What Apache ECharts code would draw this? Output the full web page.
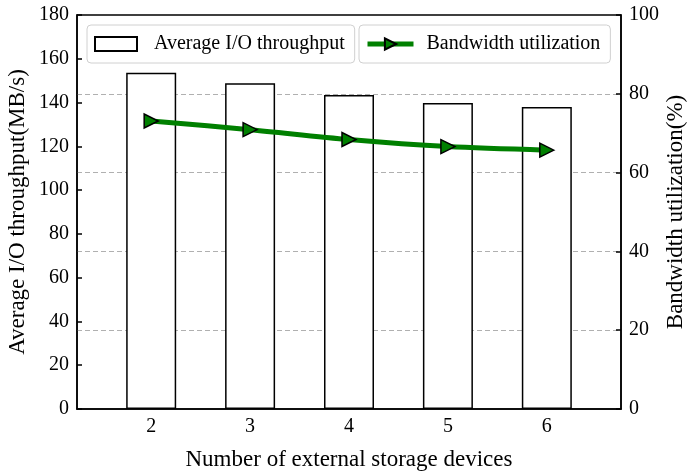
<!DOCTYPE html>
<html>
<head>
<meta charset="utf-8">
<script src="https://cdn.jsdelivr.net/npm/echarts@6/dist/echarts.min.js"></script>
<style>
  html, body { margin: 0; padding: 0; background: #fff; }
  #chart { width: 687px; height: 472px; }
</style>
</head>
<body>
<div id="chart"></div>
<script>
// Number of external storage devices
const devices = [2, 3, 4, 5, 6];
// Average I/O throughput (MB/s)
const throughput = [153.6, 148.8, 143.5, 139.8, 138.0];
// Bandwidth utilization (%)
const utilization = [73.1, 70.9, 68.4, 66.6, 65.7];

const FONT = 'Liberation Serif';
const chart = echarts.init(document.getElementById('chart'));

chart.setOption({
  animation: false,
  backgroundColor: '#fff',
  textStyle: { fontFamily: FONT, color: '#000' },
  grid: {
    left: 77, right: 66, top: 15, bottom: 63,
    show: true, borderColor: '#000', borderWidth: 1.5,
    containLabel: false,
    outerBoundsMode: 'none'
  },
  legend: [
    {
      data: [{ name: 'Average I/O throughput', icon: 'rect' }],
      left: 87, top: 25, width: 270, height: 35,
      padding: [9, 10, 9, 7],
      itemWidth: 42, itemHeight: 14,
      backgroundColor: '#fff',
      borderColor: '#d0d0d0', borderWidth: 1, borderRadius: 4,
      textStyle: { fontFamily: FONT, fontSize: 20, color: '#000', padding: [0, 0, 0, 12] }
    },
    {
      data: ['Bandwidth utilization'],
      left: 359, top: 25, height: 35,
      padding: [9, 10, 9, 6],
      itemWidth: 46, itemHeight: 14,
      lineStyle: { width: 5 },
      backgroundColor: '#fff',
      borderColor: '#d0d0d0', borderWidth: 1, borderRadius: 4,
      textStyle: { fontFamily: FONT, fontSize: 20, color: '#000', padding: [0, 0, 0, 8] }
    }
  ],
  xAxis: {
    type: 'value',
    min: 1.25, max: 6.75,
    name: 'Number of external storage devices',
    nameLocation: 'middle', nameGap: 39, nameMoveOverlap: false,
    nameTextStyle: { fontFamily: FONT, fontSize: 23, color: '#000', verticalAlign: 'top' },
    axisLine: { show: true, lineStyle: { color: '#000', width: 1.5 } },
    axisTick: { show: true, inside: true, length: 5, customValues: devices, lineStyle: { color: '#000', width: 1.5 } },
    axisLabel: { customValues: devices, fontFamily: FONT, fontSize: 20, color: '#000', margin: 8 },
    splitLine: { show: false }
  },
  yAxis: [
    {
      type: 'value', min: 0, max: 180, interval: 20,
      name: 'Average I/O throughput(MB/s)',
      nameLocation: 'middle', nameGap: 59, nameRotate: 90, nameMoveOverlap: false,
      nameTextStyle: { fontFamily: FONT, fontSize: 23, color: '#000', verticalAlign: 'middle' },
      axisLine: { show: true, lineStyle: { color: '#000', width: 1.5 } },
      axisTick: { show: true, inside: true, length: 5, lineStyle: { color: '#000', width: 1.5 } },
      axisLabel: { fontFamily: FONT, fontSize: 20, color: '#000', margin: 8 },
      splitLine: { show: false }
    },
    {
      type: 'value', min: 0, max: 100, interval: 20,
      position: 'right',
      name: 'Bandwidth utilization(%)',
      nameLocation: 'middle', nameGap: 55, nameRotate: 90, nameMoveOverlap: false,
      nameTextStyle: { fontFamily: FONT, fontSize: 23, color: '#000', verticalAlign: 'middle' },
      axisLine: { show: true, lineStyle: { color: '#000', width: 1.5 } },
      axisTick: { show: true, inside: true, length: 5, lineStyle: { color: '#000', width: 1.5 } },
      axisLabel: { fontFamily: FONT, fontSize: 20, color: '#000', margin: 8 },
      splitLine: {
        show: true, showMinLine: false, showMaxLine: false,
        lineStyle: { color: '#b0b0b0', type: [5, 3], width: 1 }
      }
    }
  ],
  series: [
    {
      name: 'Average I/O throughput',
      type: 'bar',
      yAxisIndex: 0,
      barWidth: 50,
      data: devices.map((d, i) => [d, throughput[i]]),
      itemStyle: { color: '#fff', borderColor: '#000', borderWidth: 1.5 },
      z: 2
    },
    {
      name: 'Bandwidth utilization',
      type: 'line',
      yAxisIndex: 1,
      smooth: 0.3,
      data: devices.map((d, i) => [d, utilization[i]]),
      lineStyle: { color: '#008000', width: 5 },
      symbol: 'triangle',
      symbolRotate: -90,
      symbolSize: 14,
      itemStyle: { color: '#008000', borderColor: '#000', borderWidth: 1.5 },
      z: 5
    }
  ]
});
</script>
</body>
</html>
